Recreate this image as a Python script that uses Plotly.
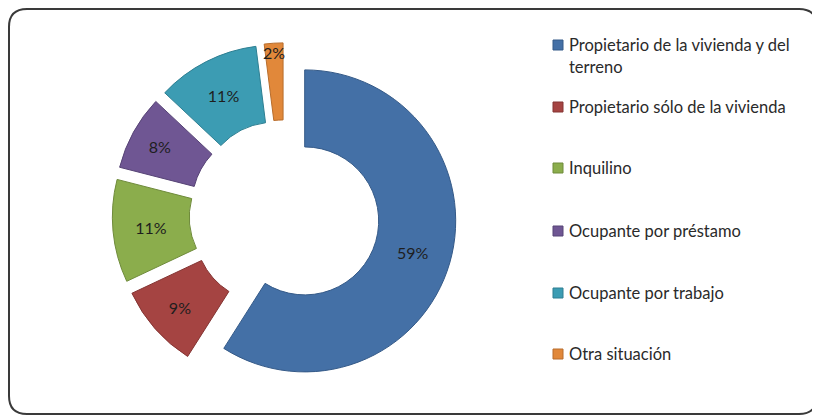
import textwrap
import plotly.graph_objects as go

# Data
labels = [
    "Propietario de la vivienda y del terreno",
    "Propietario sólo de la vivienda",
    "Inquilino",
    "Ocupante por préstamo",
    "Ocupante por trabajo",
    "Otra situación",
]
values = [59, 9, 11, 8, 11, 2]

colors = ["#4470A6", "#A54442", "#8BAD4C", "#6F5693", "#3C9CB3", "#E1883A"]
edges = ["#355A88", "#843533", "#6F8B3B", "#574476", "#2E7F92", "#B86D2C"]

# the page puts the plot 8px in from the top-left corner of the window
OFF = 8
W, H = 820 - OFF, 417 - OFF
FONT = "Lato"


def px(x):
    return (x - OFF) / W


def py(y):
    return 1 - (y - OFF) / H


# pie centre and size in window pixels
cx, cy, radius, pull = 284.4, 215, 151, 0.14
half_h = radius * (1 + pull) / H
half_w = radius * (1 + pull) / W + 0.03

fig = go.Figure()
fig.add_trace(go.Pie(
    labels=labels,
    values=values,
    hole=0.49,
    sort=False,
    direction="clockwise",
    rotation=0,
    pull=[pull] * len(values),
    marker=dict(colors=colors, line=dict(color=edges, width=1)),
    texttemplate="%{value}%",
    textposition="inside",
    insidetextorientation="horizontal",
    textfont=dict(family=FONT, size=16, color="#1E1E1E"),
    domain=dict(x=[px(cx) - half_w, px(cx) + half_w],
                y=[py(cy) - half_h, py(cy) + half_h]),
    showlegend=False,
    hoverinfo="label+percent",
))

# manual legend, spaced like the original
legend_y = [45, 107, 168, 231, 293, 354]
shapes = []
annotations = []
for lab, col, edge, y in zip(labels, colors, edges, legend_y):
    shapes.append(dict(type="rect", xref="paper", yref="paper",
                       x0=px(553), x1=px(563), y0=py(y - 5), y1=py(y + 5),
                       fillcolor=col, line=dict(color=edge, width=1)))
    for i, line in enumerate(textwrap.wrap(lab, 32)):
        annotations.append(dict(text=line, xref="paper", yref="paper",
                                x=px(567), y=py(y + i * 22), xanchor="left",
                                yanchor="middle", showarrow=False,
                                font=dict(family=FONT, size=16.5, color="#2A2A2A")))

# rounded frame
x0, y0, x1, y1, r = 9, 9, 817, 414, 18
path = (f"M {px(x0 + r)} {py(y0)} L {px(x1 - r)} {py(y0)} "
        f"Q {px(x1)} {py(y0)} {px(x1)} {py(y0 + r)} "
        f"L {px(x1)} {py(y1 - r)} Q {px(x1)} {py(y1)} {px(x1 - r)} {py(y1)} "
        f"L {px(x0 + r)} {py(y1)} Q {px(x0)} {py(y1)} {px(x0)} {py(y1 - r)} "
        f"L {px(x0)} {py(y0 + r)} Q {px(x0)} {py(y0)} {px(x0 + r)} {py(y0)} Z")
shapes.append(dict(type="path", xref="paper", yref="paper", path=path,
                   line=dict(color="#3A3A3A", width=2)))

fig.update_layout(
    width=W,
    height=H,
    margin=dict(l=0, r=0, t=0, b=0),
    paper_bgcolor="white",
    plot_bgcolor="white",
    shapes=shapes,
    annotations=annotations,
    uniformtext=dict(minsize=16, mode="show"),
)

fig.write_html("out.html")
